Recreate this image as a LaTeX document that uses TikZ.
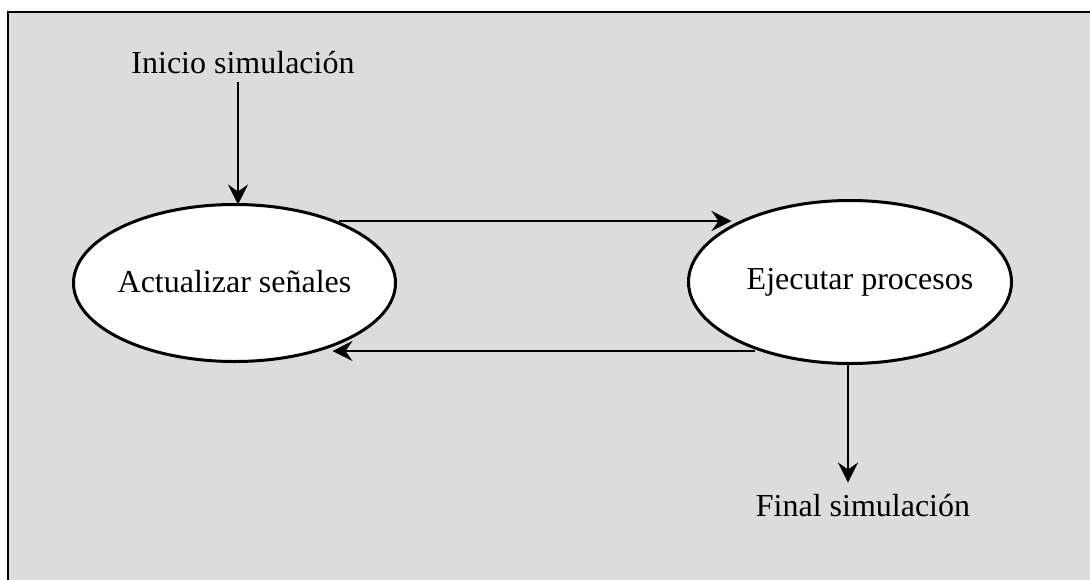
\documentclass[tikz,border=0pt]{standalone}
\usepackage{fontspec}
\setmainfont{Liberation Serif}
\usetikzlibrary{shapes.geometric,arrows.meta}
\definecolor{panelgray}{HTML}{DCDCDC}
\begin{document}
\begin{tikzpicture}[x=1pt,y=1pt,
  every node/.style={font=\fontsize{32}{37}\selectfont},
  state/.style={ellipse,draw=black,line width=3pt,fill=white,
    inner sep=0pt,outer sep=0pt},
  label/.style={inner sep=0pt},
  arr/.style={line width=2pt,-{Stealth[length=20pt,width=20pt,inset=7pt]}}]
  \useasboundingbox (0,0) rectangle (1090,-579);
  % panel
  \fill[panelgray] (8,-12) rectangle (1096,-585);
  \draw[line width=2pt] (8,-585) -- (8,-12) -- (1096,-12);
  % states (text kept in zero-width boxes so the ellipses keep their size)
  \node[state,minimum width=322pt,minimum height=157pt] (a) at (234.5,-283)
    {\makebox[0pt]{\raisebox{4pt}{Actualizar señales}}};
  \node[state,minimum width=323pt,minimum height=163pt] (b) at (850,-282)
    {\makebox[0pt]{\raisebox{4pt}{\hspace{20pt}Ejecutar procesos}}};
  % start / end labels
  \node[label] (ini) at (243,-63) {Inicio simulación};
  \node[label] (fin) at (863,-506) {Final simulación};
  % transitions
  \draw[arr] ([xshift=3.5pt]a.north |- ini.south) ++(0,-8) -- ([xshift=3.5pt]a.north);
  \draw[arr] ([xshift=-57pt,yshift=62pt]a.east) -- ([xshift=43pt,yshift=61pt]b.west);
  \draw[arr] ([xshift=66pt,yshift=-69pt]b.west) -- ([xshift=-63pt,yshift=-68pt]a.east);
  \draw[arr] ([xshift=-2pt]b.south) -- ([xshift=-2pt,yshift=12pt]b.south |- fin.north);
\end{tikzpicture}
\end{document}
